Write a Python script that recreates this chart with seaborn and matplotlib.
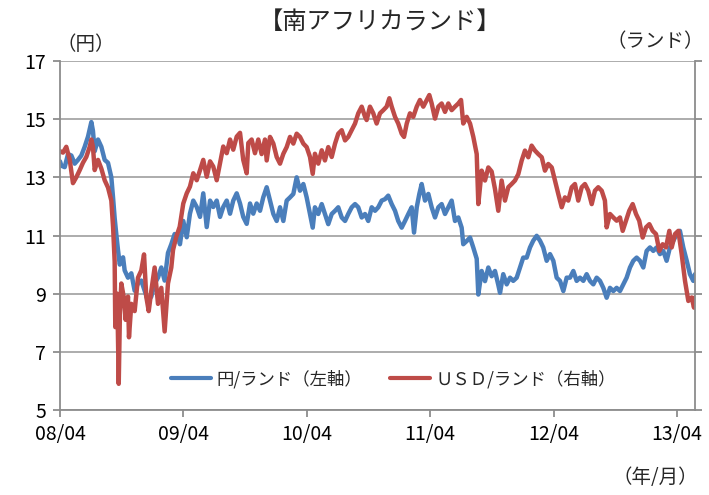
import matplotlib
matplotlib.use("Agg")
import matplotlib.pyplot as plt
import seaborn as sns
import pandas as pd
import numpy as np

# ---- data (decimal years, values) ----
jpy_t = [2008.250, 2008.261, 2008.288, 2008.315, 2008.342, 2008.369, 2008.396, 2008.423, 2008.450, 2008.477,
         2008.504, 2008.517, 2008.531, 2008.558, 2008.585, 2008.612, 2008.639, 2008.666, 2008.680, 2008.693,
         2008.706, 2008.720, 2008.734, 2008.761, 2008.774, 2008.801, 2008.828, 2008.855, 2008.882, 2008.909,
         2008.936, 2008.963, 2008.990, 2009.017, 2009.044, 2009.071, 2009.098, 2009.125, 2009.152, 2009.179,
         2009.206, 2009.222, 2009.249, 2009.277, 2009.303, 2009.330, 2009.358, 2009.385, 2009.411, 2009.439,
         2009.466, 2009.492, 2009.520, 2009.547, 2009.573, 2009.601, 2009.628, 2009.654, 2009.682, 2009.709,
         2009.735, 2009.763, 2009.790, 2009.816, 2009.844, 2009.871, 2009.897, 2009.925, 2009.952, 2009.979,
         2010.006, 2010.033, 2010.060, 2010.087, 2010.114, 2010.141, 2010.168, 2010.195, 2010.222, 2010.249,
         2010.276, 2010.298, 2010.316, 2010.343, 2010.371, 2010.397, 2010.424, 2010.452, 2010.479, 2010.505,
         2010.533, 2010.560, 2010.586, 2010.614, 2010.641, 2010.667, 2010.695, 2010.722, 2010.748, 2010.776,
         2010.803, 2010.829, 2010.857, 2010.884, 2010.910, 2010.938, 2010.965, 2010.991, 2011.019, 2011.046,
         2011.073, 2011.100, 2011.119, 2011.141, 2011.162, 2011.181, 2011.208, 2011.235, 2011.262, 2011.289,
         2011.316, 2011.343, 2011.370, 2011.397, 2011.424, 2011.451, 2011.478, 2011.505, 2011.518, 2011.546,
         2011.573, 2011.599, 2011.627, 2011.640, 2011.667, 2011.694, 2011.721, 2011.748, 2011.775, 2011.802,
         2011.816, 2011.842, 2011.870, 2011.897, 2011.923, 2011.951, 2011.978, 2012.004, 2012.032, 2012.059,
         2012.085, 2012.113, 2012.140, 2012.166, 2012.194, 2012.221, 2012.248, 2012.275, 2012.302, 2012.329,
         2012.356, 2012.383, 2012.410, 2012.437, 2012.464, 2012.491, 2012.518, 2012.545, 2012.572, 2012.599,
         2012.626, 2012.653, 2012.680, 2012.707, 2012.734, 2012.761, 2012.788, 2012.815, 2012.842, 2012.869,
         2012.896, 2012.923, 2012.950, 2012.977, 2013.004, 2013.031, 2013.058, 2013.085, 2013.112, 2013.139,
         2013.166, 2013.193, 2013.220, 2013.248, 2013.274, 2013.301, 2013.329, 2013.355, 2013.382, 2013.396]
jpy_v = [13.55, 13.40, 13.35, 13.80, 13.75, 13.47, 13.60, 13.75, 14.05, 14.40,
         14.90, 14.60, 13.90, 14.30, 14.05, 13.60, 13.50, 13.00, 12.30, 11.60,
         11.05, 10.50, 10.00, 10.25, 9.80, 9.55, 9.70, 9.10, 9.35, 9.45,
         9.10, 8.75, 8.90, 9.35, 9.55, 9.90, 9.45, 10.40, 10.70, 11.05,
         11.00, 10.70, 11.50, 10.94, 11.75, 12.20, 11.98, 11.64, 12.45, 11.29,
         12.20, 11.98, 12.20, 11.64, 11.98, 12.20, 11.75, 12.20, 12.45, 12.10,
         11.64, 11.40, 12.10, 11.75, 12.10, 11.85, 12.31, 12.66, 12.20, 11.74,
         11.50, 11.97, 11.50, 12.20, 12.31, 12.43, 13.00, 12.54, 12.77, 12.31,
         11.74, 11.27, 11.97, 11.74, 12.08, 11.74, 11.39, 11.74, 11.85, 11.97,
         11.62, 11.50, 11.74, 11.97, 12.08, 11.97, 11.62, 11.74, 11.50, 11.97,
         11.85, 11.97, 12.20, 12.25, 12.37, 12.08, 11.85, 11.50, 11.27, 11.50,
         11.74, 11.97, 11.10, 11.97, 12.43, 12.77, 12.20, 12.43, 11.97, 11.62,
         11.97, 12.08, 11.74, 11.97, 12.20, 11.50, 11.62, 11.27, 10.70, 10.81,
         10.93, 10.59, 10.20, 8.97, 9.78, 9.43, 9.90, 9.60, 9.78, 9.30,
         9.03, 9.67, 9.32, 9.55, 9.44, 9.55, 9.90, 10.24, 10.24, 10.59,
         10.82, 10.99, 10.82, 10.59, 10.13, 10.36, 10.13, 9.55, 9.44, 9.09,
         9.55, 9.55, 9.78, 9.44, 9.55, 9.44, 9.67, 9.44, 9.32, 9.55,
         9.44, 9.20, 8.86, 9.20, 9.09, 9.20, 9.09, 9.32, 9.55, 9.90,
         10.13, 10.24, 10.13, 9.90, 10.47, 10.59, 10.47, 10.59, 10.36, 10.47,
         10.13, 10.59, 10.82, 11.05, 11.16, 10.59, 10.13, 9.67, 9.44, 9.67]

usd_t = [2008.250, 2008.274, 2008.301, 2008.329, 2008.355, 2008.382, 2008.410, 2008.436, 2008.463, 2008.491,
         2008.504, 2008.517, 2008.531, 2008.558, 2008.585, 2008.612, 2008.639, 2008.666, 2008.680, 2008.693,
         2008.698, 2008.714, 2008.726, 2008.736, 2008.747, 2008.766, 2008.782, 2008.801, 2008.809, 2008.828,
         2008.855, 2008.882, 2008.909, 2008.931, 2008.949, 2008.969, 2008.990, 2009.017, 2009.044, 2009.071,
         2009.098, 2009.125, 2009.152, 2009.166, 2009.192, 2009.220, 2009.249, 2009.277, 2009.303, 2009.330,
         2009.358, 2009.385, 2009.411, 2009.439, 2009.466, 2009.492, 2009.520, 2009.547, 2009.573, 2009.601,
         2009.628, 2009.654, 2009.682, 2009.709, 2009.735, 2009.763, 2009.776, 2009.803, 2009.830, 2009.857,
         2009.884, 2009.911, 2009.925, 2009.952, 2009.979, 2010.006, 2010.033, 2010.060, 2010.087, 2010.114,
         2010.141, 2010.168, 2010.195, 2010.222, 2010.249, 2010.276, 2010.298, 2010.316, 2010.343, 2010.371,
         2010.397, 2010.424, 2010.452, 2010.479, 2010.505, 2010.533, 2010.560, 2010.586, 2010.614, 2010.641,
         2010.667, 2010.695, 2010.722, 2010.735, 2010.762, 2010.789, 2010.816, 2010.843, 2010.870, 2010.897,
         2010.919, 2010.938, 2010.965, 2010.991, 2011.019, 2011.038, 2011.060, 2011.086, 2011.113, 2011.141,
         2011.167, 2011.194, 2011.222, 2011.243, 2011.262, 2011.289, 2011.316, 2011.343, 2011.370, 2011.397,
         2011.424, 2011.451, 2011.478, 2011.500, 2011.518, 2011.546, 2011.573, 2011.599, 2011.627, 2011.640,
         2011.667, 2011.694, 2011.721, 2011.748, 2011.775, 2011.802, 2011.829, 2011.856, 2011.883, 2011.910,
         2011.937, 2011.964, 2011.991, 2012.018, 2012.045, 2012.072, 2012.099, 2012.126, 2012.154, 2012.180,
         2012.207, 2012.235, 2012.261, 2012.288, 2012.316, 2012.342, 2012.369, 2012.397, 2012.423, 2012.450,
         2012.478, 2012.504, 2012.531, 2012.559, 2012.585, 2012.612, 2012.640, 2012.666, 2012.680, 2012.707,
         2012.734, 2012.761, 2012.788, 2012.810, 2012.837, 2012.863, 2012.891, 2012.918, 2012.944, 2012.972,
         2012.999, 2013.026, 2013.053, 2013.080, 2013.107, 2013.134, 2013.161, 2013.188, 2013.207, 2013.234,
         2013.261, 2013.288, 2013.315, 2013.342, 2013.369, 2013.388, 2013.396]
usd_v = [13.90, 13.85, 14.05, 13.60, 12.80, 13.00, 13.25, 13.50, 13.70, 14.05,
         14.30, 14.05, 13.25, 13.60, 13.30, 12.90, 12.65, 12.20, 11.30, 10.10,
         7.85, 9.00, 5.90, 8.40, 9.35, 8.90, 8.10, 8.90, 7.50, 8.65,
         8.40, 9.55, 9.80, 10.35, 8.90, 8.40, 9.10, 9.90, 8.65, 9.20,
         7.70, 9.35, 9.90, 10.50, 10.95, 11.30, 12.10, 12.45, 12.68, 13.14,
         12.90, 13.25, 13.60, 13.02, 13.55, 13.37, 12.90, 13.50, 14.06, 13.83,
         14.30, 13.95, 14.40, 14.53, 13.60, 13.14, 14.18, 14.30, 13.83, 14.30,
         13.80, 14.30, 13.58, 14.39, 14.16, 13.70, 13.47, 13.81, 14.04, 14.39,
         14.16, 14.50, 14.39, 14.16, 14.04, 13.70, 13.12, 13.81, 13.47, 13.93,
         13.58, 14.04, 13.70, 14.16, 14.50, 14.62, 14.27, 14.39, 14.62, 14.85,
         15.20, 15.43, 15.08, 14.97, 15.43, 15.20, 14.85, 15.20, 15.31, 15.43,
         15.72, 15.43, 15.08, 14.85, 14.50, 14.39, 14.85, 15.20, 15.08, 15.43,
         15.66, 15.43, 15.66, 15.83, 15.54, 15.02, 15.43, 15.54, 15.25, 15.54,
         15.31, 15.43, 15.54, 15.66, 14.85, 15.08, 14.85, 14.40, 13.80, 12.08,
         13.23, 12.89, 13.34, 13.20, 12.60, 11.85, 12.89, 12.20, 12.66, 12.77,
         12.89, 13.11, 13.57, 13.92, 13.69, 14.09, 13.92, 13.80, 13.69, 13.23,
         13.46, 13.34, 12.89, 12.43, 11.97, 12.31, 12.20, 12.66, 12.77, 12.20,
         12.66, 12.77, 12.54, 12.08, 12.54, 12.66, 12.54, 12.20, 11.28, 11.74,
         11.62, 11.51, 11.62, 11.16, 11.51, 11.85, 12.08, 11.74, 11.51, 10.93,
         11.28, 11.39, 11.16, 11.05, 10.47, 10.70, 10.59, 11.16, 10.59, 11.05,
         11.16, 10.36, 9.44, 8.75, 8.87, 8.52, 8.87]

series_names = ["円/ランド（左軸）", "ＵＳＤ/ランド（右軸）"]
x_ticks = [2008.25, 2009.25, 2010.25, 2011.25, 2012.25, 2013.25]
x_labels = ["08/04", "09/04", "10/04", "11/04", "12/04", "13/04"]
y_ticks = [5, 7, 9, 11, 13, 15, 17]

df = pd.concat([
    pd.DataFrame({"t": jpy_t, "v": jpy_v, "s": series_names[0]}),
    pd.DataFrame({"t": usd_t, "v": usd_v, "s": series_names[1]}),
])

sns.set_theme(style="white")
plt.rcParams["font.family"] = ["Noto Sans CJK JP", "DejaVu Sans"]

fig = plt.figure(figsize=(7.09, 4.95), dpi=100)
ax = fig.add_axes([60/709, 1-410/495, 635/709, 349/495])

sns.lineplot(data=df, x="t", y="v", hue="s", palette=["#4A7EBB", "#BE4B48"],
             linewidth=3.2, ax=ax, sort=False, estimator=None)

ax.set_xlim(2008.25, 2013.396)
ax.set_ylim(5, 17)
ax.set_xticks(x_ticks)
ax.set_xticklabels(x_labels)
ax.set_yticks(y_ticks)
ax.set_xlabel("")
ax.set_ylabel("")
ax.grid(axis="y", color="#A6A6A6", linewidth=1.3)
ax.set_axisbelow(True)
for side in ["left", "bottom", "right"]:
    ax.spines[side].set_visible(True)
    ax.spines[side].set_color("#8C8C8C")
    ax.spines[side].set_linewidth(1.3)
ax.spines["top"].set_visible(False)
ax.tick_params(axis="both", which="major", labelsize=14, colors="#8C8C8C",
               labelcolor="black", length=5, width=1.3, direction="out")
ax.tick_params(axis="y", right=True, labelright=False, left=True, pad=5)
ax.tick_params(axis="x", bottom=True, pad=5)

leg = ax.legend(loc="center", bbox_to_anchor=(0.525, 0.088), ncol=2,
                frameon=False, fontsize=12.5, handlelength=2.3, columnspacing=1.6,
                handletextpad=0.3)
for line in leg.get_lines():
    line.set_linewidth(3)

fig.text(380/709, 1-22/495, "【南アフリカランド】", ha="center", va="center", fontsize=17.5)
fig.text(86/709, 1-44/495, "（円）", ha="center", va="center", fontsize=14)
fig.text(655/709, 1-42/495, "（ランド）", ha="center", va="center", fontsize=14)
fig.text(655/709, 1-478/495, "（年/月）", ha="center", va="center", fontsize=14)

fig.savefig("out.png", dpi=100)
